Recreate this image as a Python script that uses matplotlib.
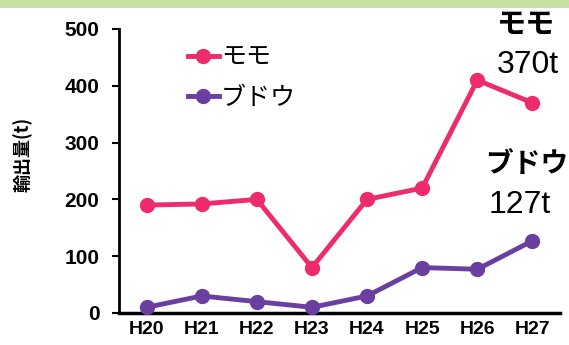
import matplotlib
import numpy as np
from matplotlib import pyplot as plt
from matplotlib.patches import Rectangle

matplotlib.use('Agg')

years = ['H20', 'H21', 'H22', 'H23', 'H24', 'H25', 'H26', 'H27']
momo = [190, 192, 200, 80, 200, 220, 410, 370]
budou = [10, 30, 20, 10, 30, 80, 77, 127]
momo_last = 370
budou_last = 127

plt.rcParams['font.family'] = ['Liberation Sans', 'Noto Sans CJK JP']

pink = '#EE2C6C'
purple = '#6A3F9F'

fig = plt.figure(figsize=(5.69, 3.45), dpi=100)
fig.patches.append(Rectangle((0, 345 - 8), 569, 8, transform=None,
                             facecolor='#C5E0A0', edgecolor='none'))
ax = fig.add_axes([119 / 569, 32 / 345, 441 / 569, 284 / 345])

x = np.arange(len(years))
ax.plot(x, momo, '-o', color=pink, lw=3.5, ms=10, label='モモ', clip_on=False, zorder=3)
ax.plot(x, budou, '-o', color=purple, lw=3.5, ms=10, label='ブドウ', clip_on=False, zorder=3)

ax.set_xlim(-0.5, 7.5)
ax.set_ylim(0, 500)
ax.set_yticks(range(0, 501, 100))
ax.set_xticks(x)
ax.set_xticklabels(years)
for s in ['top', 'right']:
    ax.spines[s].set_visible(False)
ax.spines['left'].set_linewidth(2)
ax.spines['bottom'].set_linewidth(2.5)
ax.tick_params(axis='y', length=5, width=1.5, pad=9, labelsize=15)
ax.tick_params(axis='x', length=0, pad=6, labelsize=14)
for lab in ax.get_xticklabels() + ax.get_yticklabels():
    lab.set_fontweight('bold')

ax.set_ylabel('輸出量(t)', fontsize=13, fontweight='bold',
              family=['Noto Sans CJK JP'])
ax.yaxis.set_label_coords(-86 / 441, 0.56)

leg = ax.legend(loc='upper left', bbox_to_anchor=(170 / 569, 1 - 28 / 345),
                bbox_transform=fig.transFigure, frameon=False, fontsize=18,
                handlelength=1.25, handletextpad=0.1, labelspacing=0.65,
                borderpad=0.2)

fig.text(526 / 569, 1 - 24 / 345, 'モモ', ha='center', va='center',
         fontsize=21, fontweight='bold', family=['Noto Sans CJK JP'])
fig.text(528 / 569, 1 - 65 / 345, f'{momo_last}t', ha='center', va='center', fontsize=23)
fig.text(527 / 569, 1 - 164 / 345, 'ブドウ', ha='center', va='center',
         fontsize=20, fontweight='bold', family=['Noto Sans CJK JP'])
fig.text(520 / 569, 1 - 205 / 345, f'{budou_last}t', ha='center', va='center', fontsize=23)

plt.savefig('out.png', dpi=100)
plt.close()
